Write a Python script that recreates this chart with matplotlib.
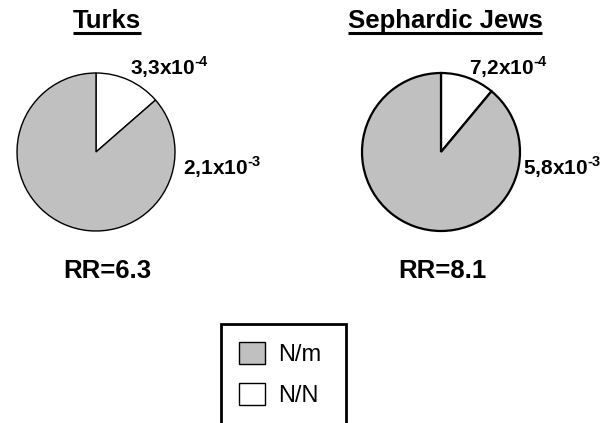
import matplotlib.pyplot as plt

plt.rcParams['font.family'] = ['Liberation Sans', 'DejaVu Sans']
plt.rcParams['mathtext.fontset'] = 'custom'
plt.rcParams['mathtext.rm'] = 'Liberation Sans:bold'
plt.rcParams['mathtext.bf'] = 'Liberation Sans:bold'

# data
groups = ['Turks', 'Sephardic Jews']
genotypes = ['N/N', 'N/m']
nn_values = [3.3e-4, 7.2e-4]
nm_values = [2.1e-3, 5.8e-3]
nn_labels = ['3,3x10$^{\\text{-4}}$', '7,2x10$^{\\text{-4}}$']
nm_labels = ['2,1x10$^{\\text{-3}}$', '5,8x10$^{\\text{-3}}$']
rr_labels = ['RR=6.3', 'RR=8.1']

colors = ['white', '#c0c0c0']
W, H = 609, 423

fig = plt.figure(figsize=(W / 100, H / 100), dpi=100)
ax = fig.add_axes([0, 0, 1, 1])

centers = [(96, H - 152), (441, H - 152)]
edge_w = [1.0, 1.6]
title_x = [107, 445]
rr_x = [107, 442]
nn_pos = [(130, H - 75), (469, H - 75)]
nm_pos = [(183, H - 175), (523, H - 175)]

wedges = None
for i, g in enumerate(groups):
    w, _ = ax.pie([nn_values[i], nm_values[i]], colors=colors,
                  startangle=90, counterclock=False,
                  center=centers[i], radius=79,
                  wedgeprops=dict(edgecolor='black', linewidth=edge_w[i]))
    if wedges is None:
        wedges = w
    ax.text(title_x[i], H - 28, g, ha='center', va='baseline',
            fontsize=18.5, fontweight='bold')
    ax.text(nn_pos[i][0], nn_pos[i][1], nn_labels[i], ha='left', va='baseline',
            fontsize=15, fontweight='bold')
    ax.text(nm_pos[i][0], nm_pos[i][1], nm_labels[i], ha='left', va='baseline',
            fontsize=15, fontweight='bold')
    ax.text(rr_x[i], H - 278, rr_labels[i], ha='center', va='baseline',
            fontsize=18.5, fontweight='bold')

ax.set_xlim(0, W)
ax.set_ylim(0, H)
ax.set_aspect('auto')
ax.axis('off')

# underline the titles
fig.canvas.draw()
renderer = fig.canvas.get_renderer()
for txt in ax.texts:
    if txt.get_text() in groups:
        bb = txt.get_window_extent(renderer)
        ax.plot([bb.x0, bb.x1], [H - 33, H - 33], color='black', lw=2.2,
                solid_capstyle='butt')

leg = ax.legend([wedges[1], wedges[0]], [genotypes[1], genotypes[0]],
                loc='upper left', bbox_to_anchor=(221 / W, 0, 125 / W, 1 - 324 / H),
                mode='expand', borderaxespad=0, fontsize=17,
                handlelength=1.1, handleheight=1.1, handletextpad=0.55,
                labelspacing=0.7, borderpad=0.75, fancybox=False, shadow=False,
                framealpha=1, edgecolor='black')
leg.get_frame().set_linewidth(2)

fig.savefig('out.png', dpi=100)
